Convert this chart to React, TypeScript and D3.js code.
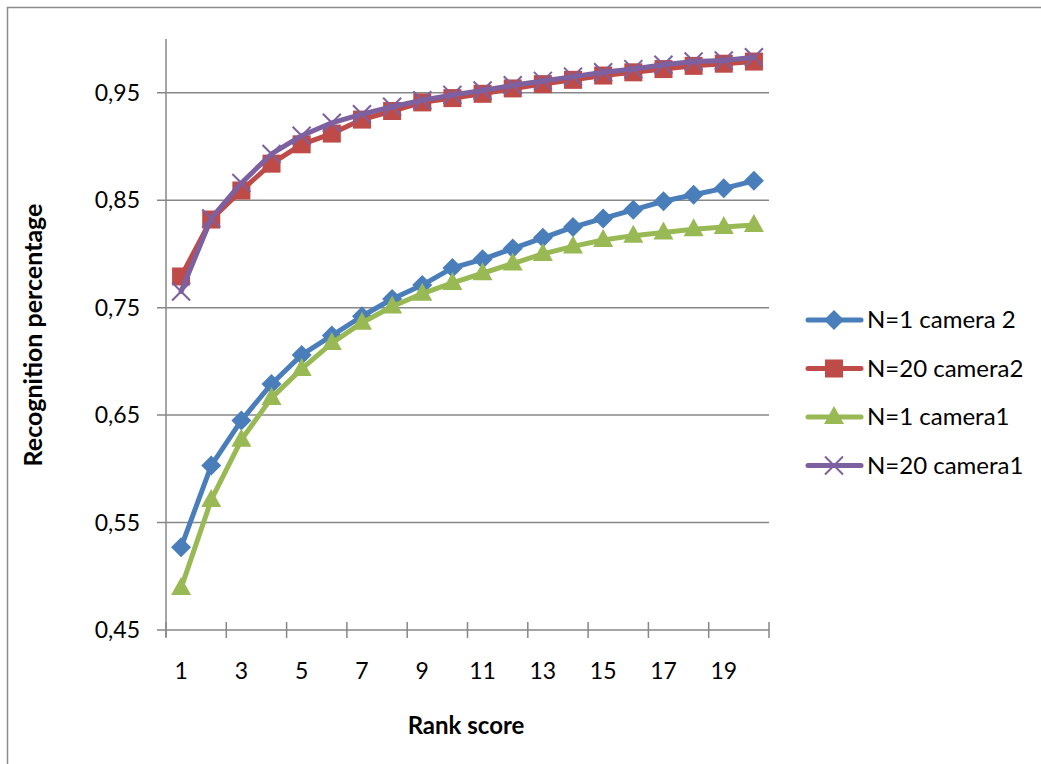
import React from "react";
import * as d3 from "d3";

const ranks = d3.range(1, 21);
const n1cam2 = [0.527, 0.603, 0.645, 0.679, 0.706, 0.724, 0.742, 0.758, 0.771, 0.787, 0.795, 0.805, 0.815, 0.825, 0.833, 0.841, 0.849, 0.855, 0.861, 0.868];
const n20cam2 = [0.779, 0.832, 0.859, 0.884, 0.902, 0.912, 0.925, 0.933, 0.941, 0.945, 0.949, 0.954, 0.958, 0.962, 0.966, 0.969, 0.972, 0.975, 0.977, 0.979];
const n1cam1 = [0.489, 0.571, 0.627, 0.666, 0.693, 0.717, 0.736, 0.751, 0.763, 0.773, 0.782, 0.791, 0.800, 0.807, 0.813, 0.817, 0.820, 0.823, 0.825, 0.827];
const n20cam1 = [0.765, 0.833, 0.866, 0.893, 0.910, 0.922, 0.930, 0.937, 0.943, 0.948, 0.952, 0.957, 0.961, 0.965, 0.969, 0.972, 0.976, 0.979, 0.980, 0.983];
const yTicks = [0.45, 0.55, 0.65, 0.75, 0.85, 0.95];
const xTickLabels = [1, 3, 5, 7, 9, 11, 13, 15, 17, 19];

const series = [
  { name: "N=1 camera 2", values: n1cam2, color: "#4A7EBB", marker: "diamond" },
  { name: "N=20 camera2", values: n20cam2, color: "#BE4B48", marker: "square" },
  { name: "N=1 camera1", values: n1cam1, color: "#98B954", marker: "triangle" },
  { name: "N=20 camera1", values: n20cam1, color: "#7D60A0", marker: "x" },
];

const FONT = "Lato, 'Open Sans', sans-serif";

function Marker({ type, x, y, color }: { type: string; x: number; y: number; color: string }) {
  if (type === "diamond") {
    return <path d={`M${x},${y - 10}L${x + 10},${y}L${x},${y + 10}L${x - 10},${y}Z`} fill={color} />;
  }
  if (type === "square") {
    return <rect x={x - 9} y={y - 9} width={18} height={18} fill={color} />;
  }
  if (type === "triangle") {
    return <path d={`M${x},${y - 11}L${x + 10},${y + 7}L${x - 10},${y + 7}Z`} fill={color} />;
  }
  return (
    <g stroke={color} strokeWidth={2}>
      <line x1={x - 9} y1={y - 9} x2={x + 9} y2={y + 9} />
      <line x1={x - 9} y1={y + 9} x2={x + 9} y2={y - 9} />
    </g>
  );
}

export default function App() {
  const left = 166, right = 769, top = 39, bottom = 630;
  const x = d3.scaleBand<number>().domain(ranks).range([left, right]);
  const y = d3.scaleLinear().domain([0.45, 1.0]).range([bottom, top]);
  const cx = (r: number) => (x(r) as number) + x.bandwidth() / 2;
  const line = d3.line<number>().x((_, i) => cx(ranks[i])).y((v) => y(v));
  const grid = "#878787";
  const xTickPos = d3.range(0, 21, 2).map((i) => left + i * x.bandwidth());

  return (
    <svg width={1041} height={764} style={{ position: "absolute", left: 0, top: 0, background: "#fff" }}>
      <rect x={0} y={0} width={1041} height={764} fill="#fff" />
      <path d="M7.5,764V7.5H1041" fill="none" stroke="#8c8c8c" strokeWidth={1.5} />
      {yTicks.map((t) => (
        <g key={t}>
          <line x1={157} x2={right} y1={y(t)} y2={y(t)} stroke={grid} strokeWidth={1.5} />
          <text x={140} y={y(t)} dy="0.35em" textAnchor="end" fontFamily={FONT} fontSize={23} fill="#000">
            {t.toFixed(2).replace(".", ",")}
          </text>
        </g>
      ))}
      <line x1={left} x2={left} y1={top} y2={bottom + 7} stroke={grid} strokeWidth={1.5} />
      {xTickPos.map((p, i) => (
        <line key={i} x1={p} x2={p} y1={bottom - 8} y2={bottom + 8} stroke={grid} strokeWidth={1.5} />
      ))}
      {xTickLabels.map((r) => (
        <text key={r} x={cx(r)} y={671} dy="0.35em" textAnchor="middle" fontFamily={FONT} fontSize={23} fill="#000">
          {r}
        </text>
      ))}
      {series.map((s) => (
        <g key={s.name}>
          <path d={line(s.values) || ""} fill="none" stroke={s.color} strokeWidth={5} strokeLinejoin="round" strokeLinecap="round" />
          {s.values.map((v, i) => (
            <Marker key={i} type={s.marker} x={cx(ranks[i])} y={y(v)} color={s.color} />
          ))}
        </g>
      ))}
      <text x={466} y={726} dy="0.35em" textAnchor="middle" fontFamily={FONT} fontSize={24} fontWeight="bold" fill="#000">
        Rank score
      </text>
      <text transform="translate(33,335) rotate(-90)" dy="0.35em" textAnchor="middle" fontFamily={FONT} fontSize={25} fontWeight="bold" fill="#000">
        Recognition percentage
      </text>
      {series.map((s, i) => {
        const ly = 320 + i * 48.5;
        return (
          <g key={s.name}>
            <line x1={808} x2={861} y1={ly} y2={ly} stroke={s.color} strokeWidth={5} strokeLinecap="round" />
            <Marker type={s.marker} x={834} y={ly} color={s.color} />
            <text x={867} y={ly} dy="0.35em" fontFamily={FONT} fontSize={24} fill="#000">
              {s.name}
            </text>
          </g>
        );
      })}
    </svg>
  );
}
